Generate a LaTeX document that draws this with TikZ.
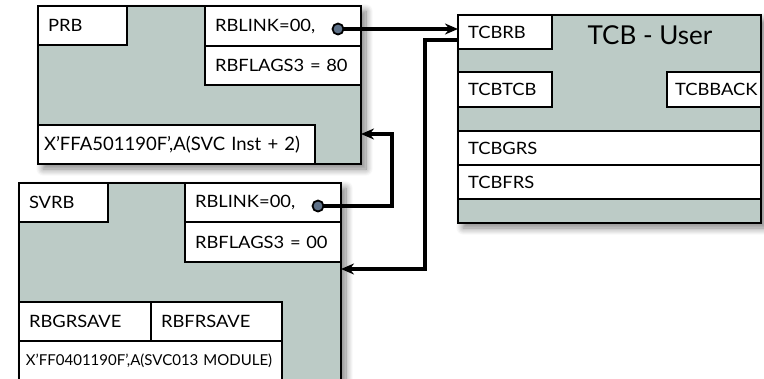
\documentclass[tikz,border=0pt]{standalone}
\usepackage{fontspec}
\setmainfont{Lato}
\newfontfamily\fldfont[FakeStretch=1.08]{Lato}
\usetikzlibrary{shadows,shadows.blur,arrows.meta,calc}
\definecolor{boxfill}{HTML}{BCCBC6}
\definecolor{dotfill}{HTML}{5E7188}
\tikzset{
  bigbox/.style={draw, line width=2.4pt, fill=boxfill, anchor=north west, inner sep=0pt, outer sep=0pt,
    blur shadow={shadow xshift=5pt, shadow yshift=-5pt, shadow blur radius=7pt, shadow blur steps=10, shadow opacity=50}},
  fld/.style={draw, line width=2.4pt, fill=white, anchor=north west, inner ysep=0pt, inner xsep=10pt,
    outer sep=0pt, align=left, font=\fldfont\fontsize{17}{19}\selectfont},
  xfont/.style={font=\rmfamily\fontsize{#1}{19}\selectfont},
  conn/.style={line width=3.2pt},
  arr/.style={conn, -{Stealth[length=13pt,width=11pt]}},
  ptr/.style={circle, draw=black, line width=1.8pt, fill=dotfill, minimum size=11pt, inner sep=0pt},
}
\newcommand\fld[8][10]{\node[fld, #2, inner xsep=#1pt, minimum height=#7pt, text width=\dimexpr#6pt-#1pt-#1pt\relax] (#3) at (#4,#5) {\mbox{#8}};}
\begin{document}
\begin{tikzpicture}[x=1pt,y=-1pt]
\useasboundingbox (0,0) rectangle (764,378);
\clip (0,0) rectangle (764,378);
% PRB
\node[bigbox, minimum width=323pt, minimum height=158pt] (prb) at (38,6) {};
\fld{}{prbl}{38}{6}{89}{39}{PRB}
\fld{}{rblink1}{205}{6}{156}{40}{RBLINK=00,}
\fld{}{rbflags1}{205}{46}{156}{39}{RBFLAGS3 = 80}
\fld[6]{xfont=18.5}{xffa}{38}{125}{277}{39}{X'FFA501190F',A(SVC Inst + 2)}
% SVRB
\node[bigbox, minimum width=322pt, minimum height=230pt] (svrb) at (19,183) {};
\fld{}{svrbl}{19}{183}{89}{39}{SVRB}
\fld{}{rblink2}{185}{183}{156}{39}{RBLINK=00,}
\fld{}{rbflags2}{185}{222}{156}{40}{RBFLAGS3 = 00}
\fld{}{rbgr}{19}{302}{132}{39}{RBGRSAVE}
\fld{}{rbfr}{151}{302}{131}{39}{RBFRSAVE}
\fld[7]{xfont=15}{xff04}{19}{341}{263}{39}{X'FF0401190F',A(SVC013 MODULE)}
% TCB
\node[bigbox, minimum width=303pt, minimum height=208pt] (tcb) at (458,15) {};
\fld{}{tcbrb}{458}{15}{94}{34}{TCBRB}
\node[font=\fontsize{26}{28}\selectfont, anchor=center] (title) at (650,35) {TCB - User};
\fld{}{tcbtcb}{458}{72}{94}{35}{TCBTCB}
\fld[8]{}{tcbback}{667}{72}{94}{35}{TCBBACK}
\fld{}{tcbgrs}{458}{131}{303}{34}{TCBGRS}
\fld{}{tcbfrs}{458}{165}{303}{34}{TCBFRS}
% pointers
\node[ptr] (dot1) at (338,29) {};
\node[ptr] (dot2) at (318,206) {};
\coordinate (c2) at (392,134);
\coordinate (c3) at (425,269);
\draw[arr] (dot1.east) -- (dot1.east -| tcbrb.west);
\draw[arr] (dot2.east) -| (c2) -- (c2 -| prb.east);
\draw[arr] ($(tcbrb.west)+(0,8)$) -| (c3) -- (c3 -| svrb.east);
\end{tikzpicture}
\end{document}
